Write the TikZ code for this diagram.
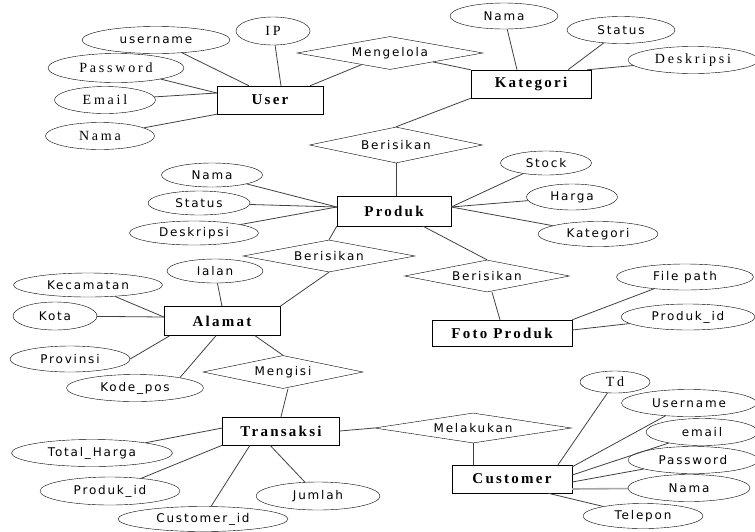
\documentclass[tikz,border=0pt]{standalone}
\usepackage{fontspec}
\setmainfont{Liberation Serif}
\newfontfamily\attrsans[LetterSpace=15]{DejaVu Sans}
\newfontfamily\attrserif[LetterSpace=20]{Liberation Serif}
\newfontfamily\entityfont[LetterSpace=15]{Liberation Serif}
\usetikzlibrary{shapes.geometric}

\tikzstyle{entity} = [rectangle, minimum height=28pt, inner sep=1pt, text centered, draw=black, font=\entityfont\fontsize{15}{17}\selectfont\bfseries]
\tikzstyle{attribute} = [ellipse, minimum height=26pt, inner sep=0pt, draw=black, font=\attrsans\fontsize{12}{14}\selectfont]
\tikzstyle{serifattr} = [attribute, font=\attrserif\fontsize{14}{16}\selectfont]
\tikzstyle{relation} = [diamond, aspect=5, inner sep=1pt, draw=black, font=\attrsans\fontsize{12}{14}\selectfont]
\tikzstyle{link} = [draw=black!75, line width=0.8pt]

\begin{document}
\begin{tikzpicture}[x=1pt, y=-1pt]

    \useasboundingbox (0,0) rectangle (755,531);

    % entities
    \node (user) [entity, minimum width=106pt] at (270,100) {User};
    \node (kategori) [entity, minimum width=120pt] at (531,84) {Kategori};
    \node (produk) [entity, minimum width=114pt, minimum height=30pt] at (394,211) {Produk};
    \node (alamat) [entity, minimum width=116pt, minimum height=29pt] at (222,321) {Alamat};
    \node (foto) [entity, minimum width=140pt, minimum height=26pt] at (502,333) {Foto Produk};
    \node (transaksi) [entity, minimum width=117pt] at (281,431) {Transaksi};
    \node (customer) [entity, minimum width=120pt] at (512,479) {Customer};

    % relations
    \node (mengelola) [relation, minimum width=186pt, minimum height=33pt] at (390,53) {Mengelola};
    \node (berisikan1) [relation, minimum width=173pt, minimum height=36pt] at (396,145) {Berisikan};
    \node (berisikan2) [relation, minimum width=172pt, minimum height=32pt] at (329,256) {Berisikan};
    \node (berisikan3) [relation, minimum width=165pt, minimum height=32pt] at (487,276) {Berisikan};
    \node (mengisi) [relation, minimum width=160pt, minimum height=33pt] at (283,372) {Mengisi};
    \node (melakukan) [relation, minimum width=197pt, minimum height=30pt] at (473,428) {Melakukan};

    % attributes of User
    \node (userName) [attribute, minimum width=148pt, minimum height=27pt] at (156,40) {username};
    \node (userIP) [serifattr, minimum width=74pt, minimum height=28pt] at (273,31) {IP};
    \node (userPass) [serifattr, minimum width=136pt, minimum height=29pt] at (116,68) {Password};
    \node (userEmail) [serifattr, minimum width=101pt, minimum height=27pt] at (105,100) {Email};
    \node (userNama) [serifattr, minimum width=109pt, minimum height=27pt] at (100,136) {Nama};

    % attributes of Kategori
    \node (katNama) [attribute, minimum width=108pt] at (504,16) {Nama};
    \node (katStatus) [attribute, minimum width=108pt, minimum height=27pt] at (621,30) {Status};
    \node (katDesk) [serifattr, minimum width=130pt, minimum height=27pt] at (693,60) {Deskripsi};

    % attributes of Produk
    \node (prodNama) [attribute, minimum width=101pt, minimum height=24pt] at (212,175) {Nama};
    \node (prodStatus) [attribute, minimum width=102pt, minimum height=24pt] at (199,203) {Status};
    \node (prodDesk) [attribute, minimum width=129pt, minimum height=24pt] at (194,233) {Deskripsi};
    \node (prodStock) [attribute, minimum width=91pt, minimum height=24pt] at (546,163) {Stock};
    \node (prodHarga) [attribute, minimum width=91pt] at (572,197) {Harga};
    \node (prodKat) [attribute, minimum width=120pt, minimum height=25pt] at (598,234) {Kategori};

    % attributes of Foto Produk
    \node (fotoPath) [attribute, minimum width=137pt] at (685,277) {File path};
    \node (fotoId) [attribute, minimum width=134pt] at (688,317) {Produk\_id};

    % attributes of Alamat
    \node (almJalan) [attribute, minimum width=96pt, minimum height=24pt] at (215,271) {Ialan};
    \node (almKec) [attribute, minimum width=149pt, minimum height=24pt] at (88,285) {Kecamatan};
    \node (almKota) [attribute, minimum width=84pt, minimum height=28pt] at (55,316) {Kota};
    \node (almProv) [attribute, minimum width=120pt] at (70,359) {Provinsi};
    \node (almPos) [attribute, minimum width=137pt, minimum height=27pt] at (135,388) {Kode\_pos};

    % attributes of Transaksi
    \node (trTotal) [attribute, minimum width=161pt, minimum height=27pt] at (92,453) {Total\_Harga};
    \node (trProd) [attribute, minimum width=140pt, minimum height=28pt] at (110,491) {Produk\_id};
    \node (trCust) [attribute, minimum width=170pt, minimum height=25pt] at (203,519) {Customer\_id};
    \node (trJumlah) [attribute, minimum width=124pt, minimum height=28pt] at (318,496) {Jumlah};

    % attributes of Customer
    \node (cusId) [serifattr, minimum width=70pt, minimum height=22pt] at (615,382) {Td};
    \node (cusUser) [attribute, minimum width=135pt, minimum height=27pt] at (689,403) {Username};
    \node (cusEmail) [attribute, minimum width=112pt, minimum height=27pt] at (702,432) {email};
    \node (cusPass) [attribute, minimum width=130pt, minimum height=27pt] at (693,460) {Password};
    \node (cusNama) [attribute, minimum width=122pt, minimum height=27pt] at (689,488) {Nama};
    \node (cusTelp) [attribute, minimum width=120pt, minimum height=25pt] at (643,516) {Telepon};

    % User
    \draw [link] (userName) -- ([xshift=-21pt]user.north);
    \draw [link] (userIP) -- ([xshift=11pt]user.north);
    \draw [link] (mengelola) -- ([xshift=40pt]user.north);
    \draw [link] (userPass) -- ([yshift=7pt]user.west);
    \draw [link] (userEmail) -- ([yshift=7pt]user.west);
    \draw [link] (userNama) -- (user.south west);

    % Kategori
    \draw [link] (mengelola) -- (kategori.north west);
    \draw [link] (katNama) -- ([xshift=-14pt]kategori.north);
    \draw [link] (katStatus) -- ([xshift=37pt]kategori.north);
    \draw [link] (katDesk) -- ([xshift=56pt]kategori.north);
    \draw [link] (kategori.south west) -- (berisikan1.north);
    \draw [link] (berisikan1.south) -- (berisikan1.south |- produk.north);

    % Produk
    \draw [link] (prodNama) -- ([yshift=4pt]produk.west);
    \draw [link] (prodStatus) -- ([yshift=4pt]produk.west);
    \draw [link] (prodDesk) -- ([yshift=4pt]produk.west);
    \draw [link] (prodStock) -- ([yshift=4pt]produk.east);
    \draw [link] (prodHarga) -- ([yshift=4pt]produk.east);
    \draw [link] (prodKat) -- ([yshift=4pt]produk.east);
    \draw [link] (produk.south west) -- (berisikan2.north);
    \draw [link] ([xshift=29pt]produk.south) -- (berisikan3.north);

    % Foto Produk
    \draw [link] ([xshift=5pt]berisikan3.south) -- ([xshift=-2pt]foto.north);
    \draw [link] (fotoPath) -- (foto.north east);
    \draw [link] (fotoId) -- ([yshift=3pt]foto.east);

    % Alamat
    \draw [link] (berisikan2.south) -- (alamat.north east);
    \draw [link] (almJalan) -- (alamat.north);
    \draw [link] (almKec) -- ([yshift=4pt]alamat.west);
    \draw [link] (almKota) -- ([yshift=4pt]alamat.west);
    \draw [link] (almProv.east) -- ([xshift=6pt]alamat.south west);
    \draw [link] (almPos.13) -- ([xshift=-6pt]alamat.south);
    \draw [link] ([xshift=33pt]alamat.south) -- (mengisi.north);
    \draw [link] ([xshift=5pt]mengisi.south) -- (transaksi.north);

    % Transaksi
    \draw [link] (trTotal) -- ([yshift=3pt]transaksi.west);
    \draw [link] (trProd) -- (transaksi.south west);
    \draw [link] (trCust) -- ([xshift=-31pt]transaksi.south);
    \draw [link] (trJumlah) -- ([xshift=-11pt]transaksi.south);
    \draw [link] (transaksi.east) -- (melakukan.west);
    \draw [link] (melakukan.south) -- (melakukan.south |- customer.north);

    % Customer
    \draw [link] (cusId) -- ([xshift=46pt]customer.north);
    \draw [link] (cusUser) -- ([yshift=-2pt]customer.north east);
    \draw [link] (cusEmail) -- ([yshift=4pt]customer.east);
    \draw [link] (cusPass) -- ([yshift=-3pt]customer.east);
    \draw [link, draw=black!35, line width=1.6pt] (cusNama) -- ([yshift=-10pt]customer.east);
    \draw [link] (cusTelp) -- ([xshift=36pt]customer.south);

\end{tikzpicture}
\end{document}
